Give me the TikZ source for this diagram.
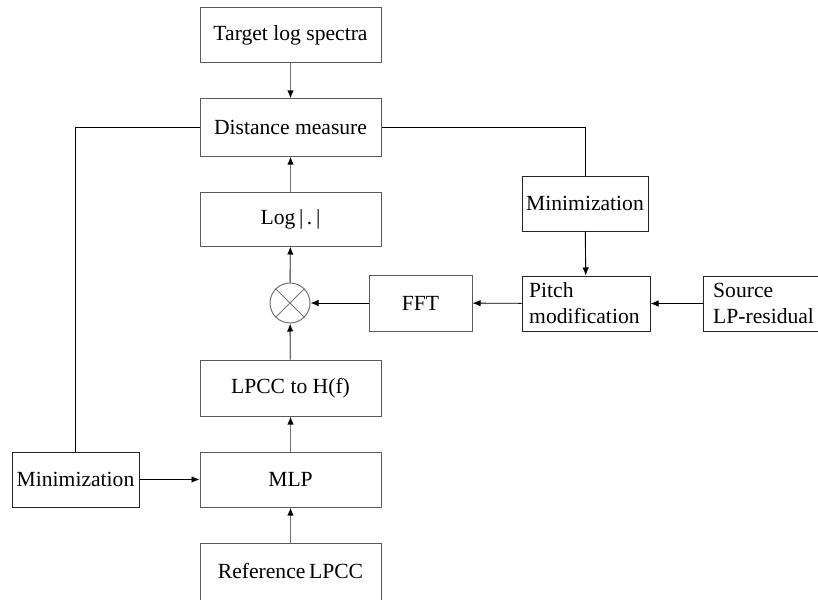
\documentclass[tikz,border=0pt]{standalone}
\usepackage{fontspec}
\setmainfont{Liberation Serif}
\usetikzlibrary{arrows.meta,calc}
\begin{document}
\begin{tikzpicture}[x=1pt,y=-1pt,
  blk/.style={draw=black!65,line width=1pt,fill=white,inner sep=0pt,align=center,
    font=\fontsize{21.6}{26}\selectfont},
  conn/.style={line width=0.9pt,black},
  arr/.style={conn,-{Latex[length=8pt,width=6.5pt]}},
  varr/.style={line width=1.4pt,black!55,-{Latex[length=8pt,width=6.5pt,fill=black,color=black]}}]
\useasboundingbox (0,0) rectangle (818,599);
\clip (0,0) rectangle (818,599);
\node[blk,minimum width=181pt,minimum height=55pt] (tgt) at (290.5,35.5) {Target log spectra};
\node[blk,minimum width=181pt,minimum height=57pt] (dist) at (290.5,127.5) {Distance measure};
\node[blk,minimum width=181pt,minimum height=54pt] (log) at (290.5,219) {Log\,|\,.\,|};
\node[draw=black!55,line width=1pt,circle,minimum size=40pt,inner sep=0pt] (mul) at (290,303) {};
\draw[black!55,line width=0.8pt] (mul.north west) -- (mul.south east) (mul.north east) -- (mul.south west);
\node[blk,minimum width=103pt,minimum height=56pt] (fft) at (420.5,303) {FFT};
\node[blk,minimum width=126pt,minimum height=55pt,draw=black!85] (minR) at (585,203.5) {Minimization};
\node[blk,minimum width=128pt,minimum height=55pt,draw=black!85] (pitch) at (586,303.5) {};
\node[anchor=west,font=\fontsize{21.6}{26}\selectfont,align=left,inner sep=0pt] (pitcht) at (529,303.5) {Pitch\\modification};
\node[blk,minimum width=127pt,minimum height=55pt,draw=black!85] (src) at (766.5,303.5) {};
\node[anchor=west,font=\fontsize{21.6}{26}\selectfont,align=left,inner sep=0pt] (srct) at (713,303.5) {Source\\LP-residual};
\node[blk,minimum width=181pt,minimum height=56pt] (lpcc) at (290.5,388) {LPCC to H(f)};
\node[blk,minimum width=181pt,minimum height=55pt] (mlp) at (290.5,479.5) {MLP};
\node[blk,minimum width=127pt,minimum height=55pt,draw=black!85] (minL) at (75.5,479.5) {Minimization};
\node[blk,minimum width=181pt,minimum height=77pt] (ref) at (290.5,581.5) {};
\node[font=\fontsize{21.6}{26}\selectfont,inner sep=0pt] (reft) at (290.5,571) {Reference\,LPCC};
% connectors
\draw[varr] (tgt) -- (dist);
\draw[varr] (log) -- (dist);
\draw[varr] (mul) -- (log);
\draw[varr] (lpcc) -- (mul);
\draw[varr] (mlp) -- (lpcc);
\draw[varr] (ref) -- (mlp);
\draw[arr] (fft) -- (mul);
\draw[arr] (pitch) -- (fft);
\draw[arr] (src) -- (pitch);
\draw[arr] (minR) -- (pitch);
\draw[arr] (minL) -- (mlp);
\draw[conn] (dist.west) -| (minL.north);
\draw[conn] (dist.east) -| (minR.north);
\end{tikzpicture}
\end{document}
